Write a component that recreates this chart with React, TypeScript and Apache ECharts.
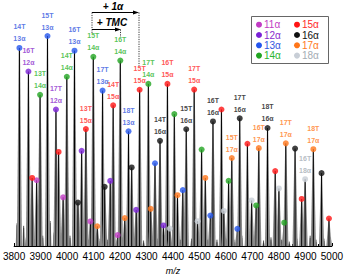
import React, { useEffect, useRef } from "react";
import * as echarts from "echarts";

// m/z tick range
const xMin = 3800;
const xMax = 5000;
const xStep = 100;

// Species (number of α units), colours and peaks: m/z, relative intensity, T label
const a11Mz = [3885, 3985, 4088, 4191];
const a11Int = [31.3, 23.2, 11.7, 5.2];
const a11T = ["", "", "", ""];

const a12Mz = [3854, 3958, 4055, 4163, 4261, 4364];
const a12Int = [83.1, 65, 45.3, 31, 17.2, 9.8];
const a12T = ["16T", "17T", "", "", "", ""];

const a13Mz = [3820, 3926, 4028, 4134, 4232, 4332, 4437, 4541, 4643];
const a13Int = [94.3, 100, 93, 74, 54.6, 39.4, 26.6, 14.5, 8.2];
const a13T = ["14T", "15T", "16T", "17T", "18T", "", "", "", ""];

const a14Mz = [3898, 3999, 4099, 4201, 4307, 4405, 4508, 4610, 4714, 4820];
const a14Int = [72, 80.6, 90.1, 88.3, 77.2, 62.8, 45.9, 31, 19.3, 11.1];
const a14T = ["13T", "14T", "15T", "16T", "17T", "", "", "", "", ""];

const a15Mz = [3868, 3968, 4071, 4174, 4274, 4379, 4480, 4583, 4681, 4786, 4886, 4989];
const a15Int = [32.4, 44.8, 55.7, 67, 74.4, 77.2, 74.5, 65, 48.7, 35.7, 22.4, 13.1];
const a15T = ["", "", "13T", "14T", "15T", "16T", "17T", "", "", "", "", ""];

const a16Mz = [4041, 4142, 4244, 4351, 4450, 4551, 4652, 4757, 4861, 4961];
const a16Int = [20.7, 28.2, 37.4, 50.1, 55.6, 59.3, 60.8, 56.2, 46.4, 34.7];
const a16T = ["", "", "", "14T", "15T", "16T", "17T", "18T", "", ""];

const a17Mz = [4114, 4218, 4316, 4417, 4522, 4622, 4724, 4826, 4930];
const a17Int = [9.4, 13.3, 17.7, 24.2, 32.4, 41.9, 46.6, 48.9, 46.1];
const a17T = ["", "", "", "", "", "15T", "16T", "17T", "18T"];

const a18Mz = [4388, 4493, 4592, 4697, 4800, 4899];
const a18Int = [8.3, 11.8, 16.7, 21.7, 27.4, 31.8];
const a18T = ["", "", "", "", "", "16T"];

// minor (unassigned) peaks
const minorMz = [3811, 3836, 3846, 3876, 3908, 3936, 3951, 3978, 4011, 4034, 4064, 4080, 4125, 4152, 4164, 4208, 4236, 4289, 4340, 4372, 4401, 4428, 4470, 4514, 4530, 4566, 4600, 4630, 4660, 4676, 4742, 4770, 4810, 4839, 4868, 4918, 4940, 4970, 4995];
const minorInt = [10.8, 9.6, 4, 3, 4.9, 11.9, 6.4, 3, 4.9, 3.5, 4.1, 3, 3.5, 3, 3.5, 4.1, 3, 2.6, 3.5, 2.5, 4.1, 3, 3.5, 5.8, 3, 3, 3.5, 3, 4.9, 6.4, 2.6, 4.1, 3, 2.1, 3.5, 4.9, 3, 3.5, 4];

const speciesNames = ["11α", "12α", "13α", "14α", "15α", "16α", "17α", "18α"];
const dotColors = ["#c23cc4", "#7a22d6", "#2456ee", "#22a522", "#ff1414", "#111111", "#ff761a", "#c8ced6"];
const textColors = ["#c23cc4", "#8a2ccc", "#3458e0", "#2eb52e", "#ff2a2a", "#111111", "#ff7a22", "#a4acb4"];

const speciesMz = [a11Mz, a12Mz, a13Mz, a14Mz, a15Mz, a16Mz, a17Mz, a18Mz];
const speciesInt = [a11Int, a12Int, a13Int, a14Int, a15Int, a16Int, a17Int, a18Int];
const speciesT = [a11T, a12T, a13T, a14T, a15T, a16T, a17T, a18T];

export default function App() {
  const ref = useRef<HTMLDivElement>(null);
  useEffect(() => {
    if (!ref.current) return;
    document.body.style.margin = "0";
    const chart = echarts.init(ref.current, undefined, { renderer: "svg" });

    const mainPeaks: number[][] = [];
    speciesMz.forEach((arr, s) => arr.forEach((m, i) => mainPeaks.push([m, speciesInt[s][i]])));
    const minorPeaks = minorMz.map((m, i) => [m, minorInt[i]]);

    const peakRender = (w: number, lw: number, fill: string) => (params: any, api: any) => {
      const x = api.value(0);
      const y = api.value(1);
      const top = api.coord([x, y]);
      const base = api.coord([x, 0]);
      return {
        type: "group",
        children: [
          {
            type: "polygon",
            shape: { points: [[base[0] - w, base[1]], [top[0] - 0.6, top[1] + 2], [top[0] + 0.6, top[1] + 2], [base[0] + w, base[1]]] },
            style: { fill },
          },
          {
            type: "line",
            shape: { x1: base[0], y1: base[1], x2: top[0], y2: top[1] },
            style: { stroke: "#000", lineWidth: lw },
          },
        ],
      };
    };

    const scatterSeries = speciesMz.map((arr, s) => ({
      type: "scatter",
      z: 5,
      symbolSize: 6,
      itemStyle: { color: dotColors[s] },
      data: arr.map((m, i) => ({ value: [m, speciesInt[s][i]], name: speciesT[s][i] })),
      label: {
        show: true,
        position: "top",
        distance: 0,
        color: textColors[s],
        fontSize: 7,
        fontWeight: "bold",
        fontFamily: "Liberation Sans",
        lineHeight: 12,
        formatter: (p: any) => (p.name ? `${p.name}\n${speciesNames[s]}` : ""),
      },
    }));

    const legendItems: any[] = [
      { type: "rect", shape: { x: 251.5, y: 16.5, width: 77, height: 47 }, style: { fill: "#fff", stroke: "#666", lineWidth: 1 } },
    ];
    speciesNames.forEach((n, i) => {
      const col = i < 4 ? 0 : 1;
      const row = i % 4;
      const cx = col === 0 ? 259 : 297;
      const cy = 24.7 + row * 10.3;
      legendItems.push({ type: "circle", shape: { cx, cy, r: 3 }, style: { fill: dotColors[i] } });
      legendItems.push({
        type: "text",
        x: cx + 5,
        y: cy,
        style: { text: n, fill: textColors[i], fontSize: 10, lineHeight: 10, fontFamily: "Liberation Sans", verticalAlign: "middle", align: "left" },
      });
    });

    chart.setOption({
      animation: false,
      grid: { left: 13, right: 13, top: 36, bottom: 29.5 },
      xAxis: {
        type: "value",
        min: xMin,
        max: xMax,
        interval: xStep,
        name: "m/z",
        nameLocation: "middle",
        nameGap: 20,
        nameTextStyle: { fontStyle: "italic", fontSize: 9, fontFamily: "Liberation Sans", color: "#000" },
        axisLine: { lineStyle: { color: "#000", width: 1 } },
        axisTick: { inside: true, length: 3, lineStyle: { color: "#000" } },
        minorTick: { show: true, splitNumber: 2, length: 2, lineStyle: { color: "#000" } },
        axisLabel: { color: "#000", fontSize: 10, fontFamily: "Liberation Sans", margin: 5, formatter: (v: number) => String(v) },
        splitLine: { show: false },
      },
      yAxis: { type: "value", min: 0, max: 100, show: false },
      series: [
        { type: "custom", z: 1, renderItem: peakRender(1.4, 0.7, "#9a9a9a"), data: minorPeaks, encode: { x: 0, y: 1 } },
        { type: "custom", z: 2, renderItem: peakRender(2.6, 1, "#8a8a8a"), data: mainPeaks, encode: { x: 0, y: 1 } },
        ...scatterSeries,
      ],
      graphic: [
        { type: "group", z: 20, children: legendItems },
        // +1α arrow
        { type: "text", x: 113, y: 6, style: { text: "+ 1α", fontSize: 10, fontWeight: "bold", fontStyle: "italic", fontFamily: "Liberation Sans", fill: "#000", align: "center", verticalAlign: "middle" } },
        { type: "line", shape: { x1: 92, y1: 12.5, x2: 135, y2: 12.5 }, style: { stroke: "#000", lineWidth: 1 } },
        { type: "polygon", shape: { points: [[139, 12.5], [133, 10.5], [133, 14.5]] }, style: { fill: "#000" } },
        { type: "line", shape: { x1: 92, y1: 12.5, x2: 92, y2: 33 }, style: { stroke: "#000", lineWidth: 0.8, lineDash: [1.2, 1.2] } },
        { type: "line", shape: { x1: 139, y1: 12.5, x2: 139, y2: 66 }, style: { stroke: "#000", lineWidth: 0.8, lineDash: [1.2, 1.2] } },
        // +TMC arrow
        { type: "text", x: 112, y: 22, style: { text: "+ TMC", fontSize: 10, fontWeight: "bold", fontStyle: "italic", fontFamily: "Liberation Sans", fill: "#000", align: "center", verticalAlign: "middle" } },
        { type: "line", shape: { x1: 92, y1: 29.5, x2: 117, y2: 29.5 }, style: { stroke: "#000", lineWidth: 1 } },
        { type: "polygon", shape: { points: [[121, 29.5], [115, 27.5], [115, 31.5]] }, style: { fill: "#000" } },
        { type: "line", shape: { x1: 120.5, y1: 29.5, x2: 120.5, y2: 37 }, style: { stroke: "#000", lineWidth: 0.8, lineDash: [1.2, 1.2] } },
      ],
    });
    return () => chart.dispose();
  }, []);
  return <div ref={ref} style={{ width: 346, height: 280 }} />;
}
